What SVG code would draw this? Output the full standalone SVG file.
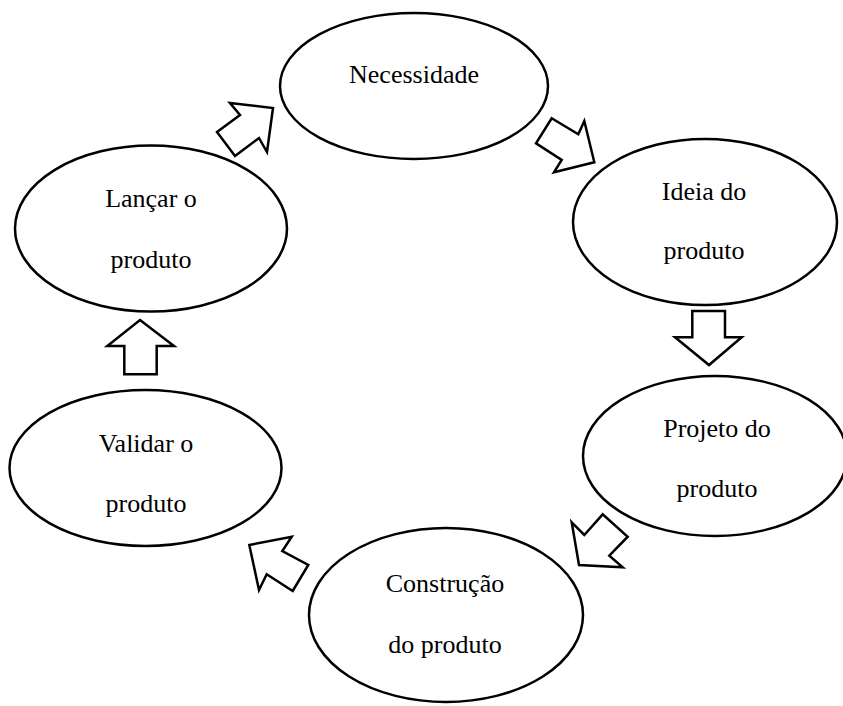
<svg xmlns="http://www.w3.org/2000/svg" width="843" height="706" viewBox="0 0 843 706">
  <style>
    .stage { fill: #ffffff; stroke: #000000; stroke-width: 2.5; }
    .arrow { fill: #ffffff; stroke: #000000; stroke-width: 2.5; stroke-linejoin: miter; }
    .label { font-family: "Liberation Serif", "Times New Roman", serif; font-size: 26px; fill: #000000; text-anchor: middle; }
  </style>
  <rect width="843" height="706" fill="#ffffff"/>

  <!-- product cycle stages -->
  <g id="necessidade">
    <ellipse class="stage" cx="414" cy="86" rx="134" ry="73"/>
    <text class="label" x="414" y="83">Necessidade</text>
  </g>
  <g id="ideia">
    <ellipse class="stage" cx="705" cy="222" rx="132" ry="83"/>
    <text class="label" x="704" y="200">Ideia do</text>
    <text class="label" x="704" y="259">produto</text>
  </g>
  <g id="projeto">
    <ellipse class="stage" cx="715" cy="456" rx="132" ry="80"/>
    <text class="label" x="717" y="437">Projeto do</text>
    <text class="label" x="717" y="497">produto</text>
  </g>
  <g id="construcao">
    <ellipse class="stage" cx="446" cy="615" rx="137" ry="87"/>
    <text class="label" x="445" y="592">Construção</text>
    <text class="label" x="445" y="653">do produto</text>
  </g>
  <g id="validar">
    <ellipse class="stage" cx="145.5" cy="468" rx="136" ry="78"/>
    <text class="label" x="146" y="452">Validar o</text>
    <text class="label" x="146" y="512">produto</text>
  </g>
  <g id="lancar">
    <ellipse class="stage" cx="151" cy="228.5" rx="136" ry="83"/>
    <text class="label" x="151" y="207">Lançar o</text>
    <text class="label" x="151" y="268">produto</text>
  </g>

  <!-- block arrows between stages -->
  <g id="connectors">
    <polygon class="arrow" points="230,103 273,108 267,152 259,138 235,156 217,132 240,115"/>
    <polygon class="arrow" points="551.7,118.3 578.3,134.3 584.3,121 594.3,162.3 554,172.3 561.7,160 536,143.3"/>
    <polygon class="arrow" points="692.3,311 725,311 725,337.3 741.7,337.3 709,365 675,337.3 692.3,337.3"/>
    <polygon class="arrow" points="571.7,522.3 584.3,535 602.7,514.3 627.7,536.7 609.3,555.7 622.7,567.3 579,565"/>
    <polygon class="arrow" points="249.3,545 291.7,536.7 282.3,551 308.3,565 292.7,591 266.7,574.3 259,590"/>
    <polygon class="arrow" points="140,320 174,346 156.7,346 156.7,374.3 124.3,374.3 124.3,346 107.3,346"/>
  </g>
</svg>
